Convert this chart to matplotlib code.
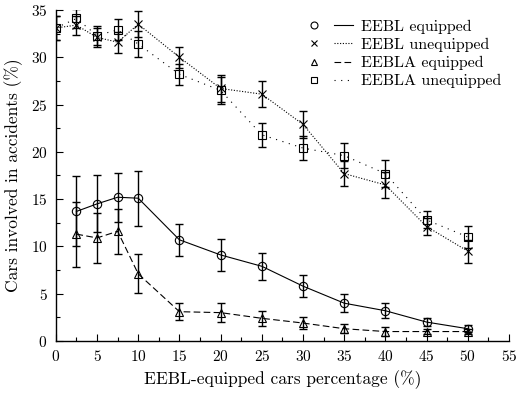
import matplotlib
matplotlib.use("Agg")
import matplotlib.pyplot as plt
from matplotlib.lines import Line2D
from matplotlib.legend_handler import HandlerTuple
from matplotlib.ticker import MultipleLocator

plt.rcParams['font.family'] = ['cmr10', 'DejaVu Serif']
plt.rcParams['mathtext.fontset'] = 'cm'
plt.rcParams['axes.formatter.use_mathtext'] = True

# data #########################################################################
pct_eq = [2.5, 5, 7.5, 10, 15, 20, 25, 30, 35, 40, 45, 50]
pct_all = [0, 2.5, 5, 7.5, 10, 15, 20, 25, 30, 35, 40, 45, 50]

eebl_eq = [13.7, 14.5, 15.2, 15.1, 10.7, 9.1, 7.9, 5.8, 4.0, 3.2, 2.0, 1.3]
eebl_eq_err = [3.7, 3.0, 2.6, 2.9, 1.7, 1.7, 1.45, 1.15, 0.95, 0.8, 0.4, 0.4]

eebla_eq = [11.3, 10.9, 11.6, 7.1, 3.1, 3.0, 2.4, 1.9, 1.3, 1.0, 1.0, 1.0]
eebla_eq_err = [3.45, 2.65, 2.4, 2.05, 0.9, 1.0, 0.8, 0.65, 0.5, 0.45, 0.3, 0.3]

eebl_uneq = [33.1, 33.4, 32.1, 31.6, 33.5, 30.0, 26.7, 26.1, 22.9, 17.7, 16.5, 12.1, 9.5]
eebl_uneq_err = [1.3, 1.0, 1.0, 1.1, 1.4, 1.1, 1.4, 1.4, 1.4, 1.3, 1.4, 0.9, 1.2]

eebla_uneq = [33.1, 34.1, 32.3, 32.9, 31.4, 28.2, 26.5, 21.8, 20.4, 19.6, 17.7, 12.8, 11.0]
eebla_uneq_err = [1.3, 1.0, 1.0, 1.1, 1.4, 1.1, 1.4, 1.3, 1.3, 1.3, 1.4, 0.9, 1.2]

labels = ["EEBL equipped", "EEBL unequipped", "EEBLA equipped", "EEBLA unequipped"]

# plot #########################################################################
fig = plt.figure(figsize=(5.17, 3.93), dpi=100)
ax = fig.add_axes([0.108, 0.1323, 0.8765, 0.8423])

series = [
    (pct_eq, eebl_eq, eebl_eq_err, 'o', '-'),
    (pct_all, eebl_uneq, eebl_uneq_err, 'x', (0, (1, 1.5))),
    (pct_eq, eebla_eq, eebla_eq_err, '^', (0, (6, 3))),
    (pct_all, eebla_uneq, eebla_uneq_err, 's', (0, (1, 5))),
]

handles = []
for (xs, ys, err, mk, ls), lab in zip(series, labels):
    ax.errorbar(xs, ys, yerr=err, fmt='none', ecolor='black',
                elinewidth=1.0, capsize=3, capthick=1.0, zorder=2)
    ax.plot(xs, ys, linestyle=ls, color='black', linewidth=0.8,
            marker=mk, markersize=6, markerfacecolor='none',
            markeredgecolor='black', markeredgewidth=0.8, zorder=3)
    h_marker = Line2D([], [], linestyle='none', marker=mk, markersize=5,
                      markerfacecolor='none', markeredgecolor='black',
                      markeredgewidth=0.8)
    h_line = Line2D([], [], linestyle=ls, color='black', linewidth=0.8)
    handles.append((h_marker, h_line))

# axis #########################################################################
ax.set_xlim(0, 55)
ax.set_ylim(0, 35)
ax.xaxis.set_major_locator(MultipleLocator(5))
ax.xaxis.set_minor_locator(MultipleLocator(2.5))
ax.yaxis.set_major_locator(MultipleLocator(5))
ax.yaxis.set_minor_locator(MultipleLocator(2.5))
ax.tick_params(which='both', direction='in', top=False, right=False,
               labelsize=11, width=0.8)
ax.tick_params(which='major', length=5, pad=6)
ax.tick_params(which='minor', length=3)
for side in ('top', 'right'):
    ax.spines[side].set_visible(False)
for side in ('left', 'bottom'):
    ax.spines[side].set_linewidth(1.0)

ax.set_xlabel("EEBL-equipped cars percentage (%)", fontsize=12.5, labelpad=4)
ax.set_ylabel("Cars involved in accidents (%)", fontsize=12.5)
ax.yaxis.set_label_coords(-0.072, 0.5)

ax.legend(handles, labels, loc='upper right', frameon=False, fontsize=11.5,
          handler_map={tuple: HandlerTuple(ndivide=None, pad=0.6)},
          handlelength=3.0, handletextpad=0.5, labelspacing=0.25,
          borderaxespad=0.1, bbox_to_anchor=(1.0, 0.995))

fig.savefig("out.png", dpi=100)
